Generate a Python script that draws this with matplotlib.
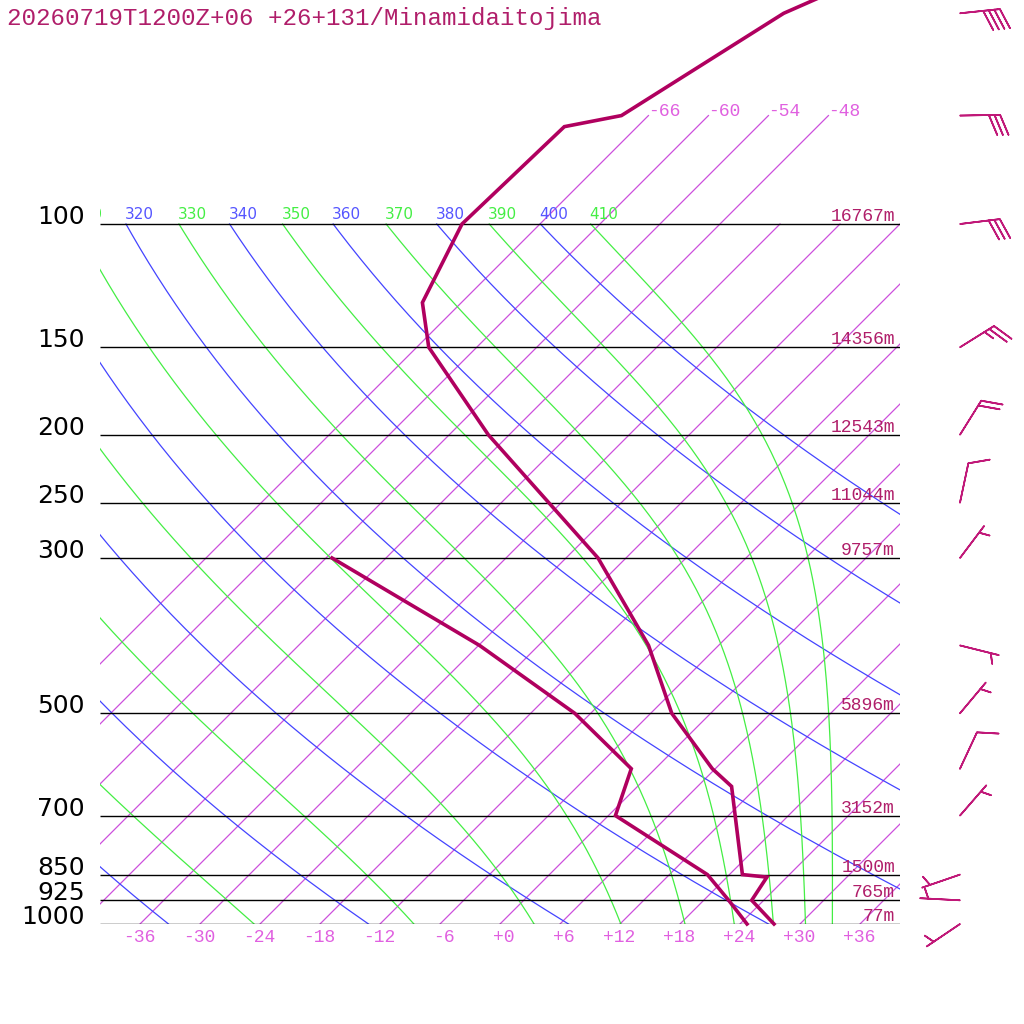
import numpy as np
import matplotlib
matplotlib.use('Agg')
import matplotlib.pyplot as plt
from matplotlib.transforms import offset_copy

# sounding
title = '20260719T1200Z+06 +26+131/Minamidaitojima'

temp_p = [1000, 925, 857, 850, 636, 600, 500, 400, 300, 200, 150, 129.5, 100, 72.6, 70, 50, 47]
temp_t = [27.4, 22.8, 22.0, 19.3, 9.4, 5.7, -3.9, -13.0, -26.8, -50.1, -64.8, -69.9, -73.8, -73.3, -68.7, -62.7, -60.3]

dew_p = [1000, 925, 850, 700, 600, 500, 400, 300]
dew_t = [24.7, 20.5, 15.8, 0.7, -2.4, -13.6, -29.9, -53.4]

wind_p = [1000, 925, 850, 700, 600, 500, 400, 300, 250, 200, 150, 100, 70, 50]
wind_dir = [236, 273, 251, 41, 25, 40, 104, 37, 12, 32, 58, 83, 89, 84]
wind_spd = [5, 5, 5, 5, 10, 5, 5, 5, 10, 20, 25, 30, 30, 40]

levels = [1000, 925, 850, 700, 500, 300, 250, 200, 150, 100]
heights = ['77m', '765m', '1500m', '3152m', '5896m', '9757m', '11044m', '12543m', '14356m', '16767m']

isotherms = list(range(-66, 37, 6))
dry_thetas = list(range(240, 401, 20))
moist_thetas = list(range(250, 411, 20))

SKEW = 70.0
PURPLE = '#b0005f'
DARK = '#b01e6a'


def skx(t, p):
    return np.asarray(t, float) + SKEW * np.log10(1000.0 / np.asarray(p, float))


def theta_e(tc, p):
    # Bolton (1980), saturated parcel
    tk = tc + 273.15
    es = 6.112 * np.exp(17.67 * tc / (tc + 243.5))
    with np.errstate(all='ignore'):
        r = 622.0 * es / np.maximum(p - es, 1e-6)
        return tk * (1000.0 / p) ** (0.2854 * (1 - 0.00028 * r)) * \
            np.exp((3.376 / tk - 0.00254) * r * (1 + 0.00081 * r))


def moist_line(the, p):
    lo = np.full_like(p, -150.0)
    hi = np.full_like(p, 45.0)
    for _ in range(60):
        mid = 0.5 * (lo + hi)
        big = theta_e(mid, p) > the
        hi = np.where(big, mid, hi)
        lo = np.where(big, lo, mid)
    return 0.5 * (lo + hi)


fig = plt.figure(figsize=(10.24, 10.24), dpi=100)
ax = fig.add_axes([100 / 1024, 100 / 1024, 800 / 1024, 924 / 1024])
ax.set_yscale('log')
ax.set_xlim(-40, 40)
ax.set_ylim(1000, 1000 / 10 ** (924 / 700))
ax.axis('off')

pp = np.logspace(3, 2, 200)

# isotherms
for t in isotherms:
    ptop = 70 if t <= -48 else 100
    ax.plot(skx([t, t], [1000, ptop]), [1000, ptop], color='#cc50dc', lw=0.9)
    if t <= -48:
        ax.text(skx(t, 70), 70, '%d' % t, color='#e060e0', fontsize=13,
                family='Liberation Mono', ha='left', va='baseline')

# dry adiabats
lab = offset_copy(ax.transData, fig=fig, x=-1, y=5, units='dots')
for th in dry_thetas:
    tt = th * (pp / 1000.0) ** 0.2857 - 273.15
    ax.plot(skx(tt, pp), pp, color='#4444ff', lw=0.9)
    if th >= 320:
        ax.text(skx(tt[-1], 100), 100, str(th), color='#5555ff', fontsize=11,
                ha='left', va='baseline', transform=lab, clip_on=True)

# moist adiabats
for th in moist_thetas:
    tt = moist_line(th, pp)
    ax.plot(skx(tt, pp), pp, color='#44ee44', lw=0.9)
    if th >= 310:
        ax.text(skx(tt[-1], 100), 100, str(th), color='#44ee44', fontsize=11,
                ha='left', va='baseline', transform=lab, clip_on=True)

# pressure levels
ax.hlines(levels, -40, 40, color='black', lw=1.0)
up = offset_copy(ax.transData, fig=fig, y=3, units='dots')
for p, h in zip(levels, heights):
    ax.text(-41.5, p, str(p), fontsize=18, family='DejaVu Sans', color='black',
            ha='right', va='baseline', clip_on=False)
    ax.text(39.5, p, h, fontsize=13, family='Liberation Mono', color=DARK,
            ha='right', va='baseline', transform=up)

# temperature axis labels
down = offset_copy(ax.transData, fig=fig, y=-18, units='dots')
for t in range(-36, 37, 6):
    ax.text(t + 1.5, 1000, '%+d' % t, fontsize=13, family='Liberation Mono',
            color='#e060e0', ha='right', va='baseline', transform=down, clip_on=False)

# profiles
ax.plot(skx(dew_t, dew_p), dew_p, color=PURPLE, lw=2.6, solid_joinstyle='miter', clip_on=False)
ax.plot(skx(temp_t, temp_p), temp_p, color=PURPLE, lw=2.6, solid_joinstyle='miter', clip_on=False)

# wind barbs
d = np.radians(wind_dir)
u = -np.array(wind_spd) * np.sin(d)
v = -np.array(wind_spd) * np.cos(d)
ax.barbs(np.full(len(wind_p), 46.0), wind_p, u, v, length=7.6, color='#c01878',
         linewidth=1.2, sizes=dict(height=0.5, width=0.4, spacing=0.14),
         clip_on=False)

fig.text(7 / 1024, 1 - 25 / 1024, title, fontsize=17.4, family='Liberation Mono',
         color=DARK, ha='left', va='baseline')

fig.savefig('out.png', dpi=100, facecolor='white')
